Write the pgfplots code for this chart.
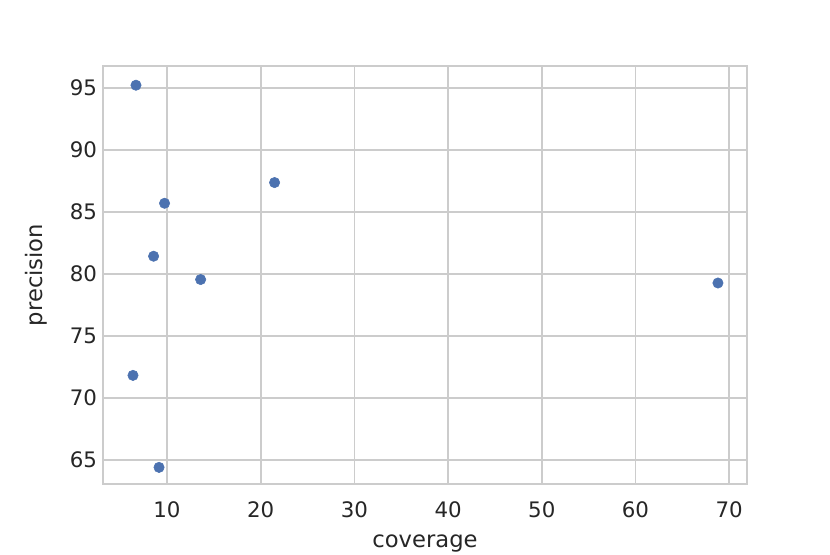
\documentclass[border=0pt]{standalone}
\usepackage{pgfplots}
\pgfplotsset{compat=1.18}
\usepackage{fontspec}
\setmainfont{DejaVu Sans}
\definecolor{sbblue}{HTML}{4C72B0}
\definecolor{gridgray}{HTML}{CCCCCC}
\definecolor{txt}{HTML}{262626}
\begin{document}
\begin{tikzpicture}
\path[use as bounding box] (-77.25pt,-52.5pt) rectangle (545.25pt,363pt);
\begin{axis}[
    at={(0pt,0pt)}, anchor=south west,
    scale only axis,
    width=483pt, height=313.5pt,
    xmin=3.17, xmax=71.9,
    ymin=63.06, ymax=96.77,
    xtick={10,20,...,70},
    ytick={65,70,...,95},
    grid=major,
    major grid style={gridgray, line width=1.3pt},
    axis line style={gridgray, line width=1.4pt},
    major tick length=0pt,
    tick style={draw=none},
    ticklabel style={font=\fontsize{16}{19}\selectfont, text=txt},
    /pgf/number format/assume math mode=true,
    xticklabel style={yshift=-10pt},
    yticklabel style={xshift=-1pt},
    xlabel={coverage},
    ylabel={precision},
    label style={font=\fontsize{17}{20}\selectfont, text=txt},
    xlabel style={yshift=-5.5pt},
    ylabel style={yshift=10pt},
]
\addplot[only marks, mark=*, mark size=3.9pt, mark options={fill=sbblue, draw=sbblue}]
coordinates {
    (6.69,95.22)
    (9.74,85.70)
    (21.48,87.37)
    (8.57,81.43)
    (13.59,79.55)
    (68.80,79.27)
    (6.37,71.82)
    (9.15,64.40)
};
\end{axis}
\end{tikzpicture}
\end{document}
